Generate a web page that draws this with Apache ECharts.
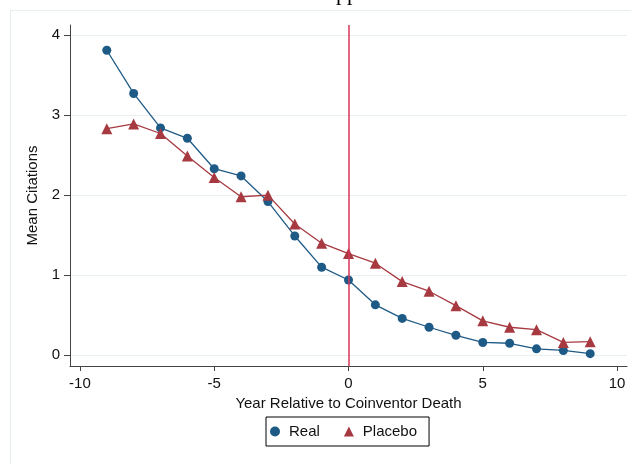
<!DOCTYPE html>
<html>
<head>
<meta charset="utf-8">
<script src="https://cdn.jsdelivr.net/npm/echarts@6/dist/echarts.min.js"></script>
<style>html,body{margin:0;padding:0;background:#fff;}#c{width:631px;height:464px;}</style>
</head>
<body>
<div id="c"></div>
<script>
const years = [-9,-8,-7,-6,-5,-4,-3,-2,-1,0,1,2,3,4,5,6,7,8,9];
const realValues = [3.81,3.27,2.84,2.71,2.33,2.24,1.92,1.49,1.10,0.94,0.63,0.46,0.35,0.25,0.16,0.15,0.08,0.06,0.02];
const placeboValues = [2.83,2.89,2.77,2.49,2.22,1.98,2.00,1.64,1.40,1.27,1.15,0.92,0.80,0.62,0.43,0.35,0.32,0.16,0.17];
const xTicks = [-10,-5,0,5,10];
const yTicks = [0,1,2,3,4];
const seriesNames = ['Real','Placebo'];
const xTitle = 'Year Relative to Coinventor Death';
const yTitle = 'Mean Citations';
const titleText = 'B. Citations to Supplier Patents';

const font = '"Liberation Sans", Arial, Helvetica, sans-serif';
const chart = echarts.init(document.getElementById('c'), null, {renderer:'canvas'});
const pairs = (vals) => years.map((y,i)=>[y, vals[i]]);
chart.setOption({
  animation:false,
  backgroundColor:'#fff',
  graphic:[
    {type:'rect', left:8, top:8, shape:{width:700,height:600}, style:{fill:'none', stroke:'#e6eeee', lineWidth:1}, z:-1},
    {type:'text', x:318, y:-6, style:{text:titleText, font:'22px "Liberation Serif", "DejaVu Serif", serif', fill:'#000', align:'center', verticalAlign:'middle'}}
  ],
  grid:{left:70, right:4, top:25, bottom:98},
  xAxis:{
    type:'value', min:-10.37, max:10.37,
    name:xTitle, nameLocation:'middle', nameGap:23,
    nameTextStyle:{fontFamily:font, fontSize:15, color:'#111'},
    axisLine:{show:true, onZero:false, lineStyle:{color:'#444', width:1}},
    axisTick:{show:true, length:5, customValues:xTicks, lineStyle:{color:'#444'}},
    axisLabel:{customValues:xTicks, fontFamily:font, fontSize:15, color:'#111', margin:10},
    splitLine:{show:false}
  },
  yAxis:{
    type:'value', min:-0.134, max:4.125,
    name:yTitle, nameLocation:'middle', nameGap:25,
    nameTextStyle:{fontFamily:font, fontSize:15, color:'#111'},
    axisLine:{show:true, onZero:false, lineStyle:{color:'#444', width:1}},
    axisTick:{show:true, length:6, customValues:yTicks, lineStyle:{color:'#444'}},
    axisLabel:{customValues:yTicks, fontFamily:font, fontSize:15, color:'#111', margin:10},
    splitLine:{show:true, lineStyle:{color:'#e8f0f0', width:1}}
  },
  legend:{
    data:[{name:seriesNames[0], icon:'circle'},{name:seriesNames[1], icon:'triangle'}],
    left:266, top:417, orient:'horizontal',
    itemWidth:10, itemHeight:10, itemGap:24,
    padding:[7,12,7,4],
    borderColor:'#000', borderWidth:1,
    textStyle:{fontFamily:font, fontSize:15, color:'#111', padding:[0,0,0,4]}
  },
  series:[
    {name:seriesNames[0], type:'line', data:pairs(realValues), symbol:'circle', symbolSize:9,
     itemStyle:{color:'#1e5a86'}, lineStyle:{color:'#1e5a86', width:1.3},
     markLine:{silent:true, symbol:'none', label:{show:false}, lineStyle:{color:'#d8345a', width:1.5, type:'solid'}, data:[{xAxis:0}]}
    },
    {name:seriesNames[1], type:'line', data:pairs(placeboValues), symbol:'triangle', symbolSize:11,
     itemStyle:{color:'#a63a40'}, lineStyle:{color:'#a63a40', width:1.3}}
  ]
});
</script>
</body>
</html>
